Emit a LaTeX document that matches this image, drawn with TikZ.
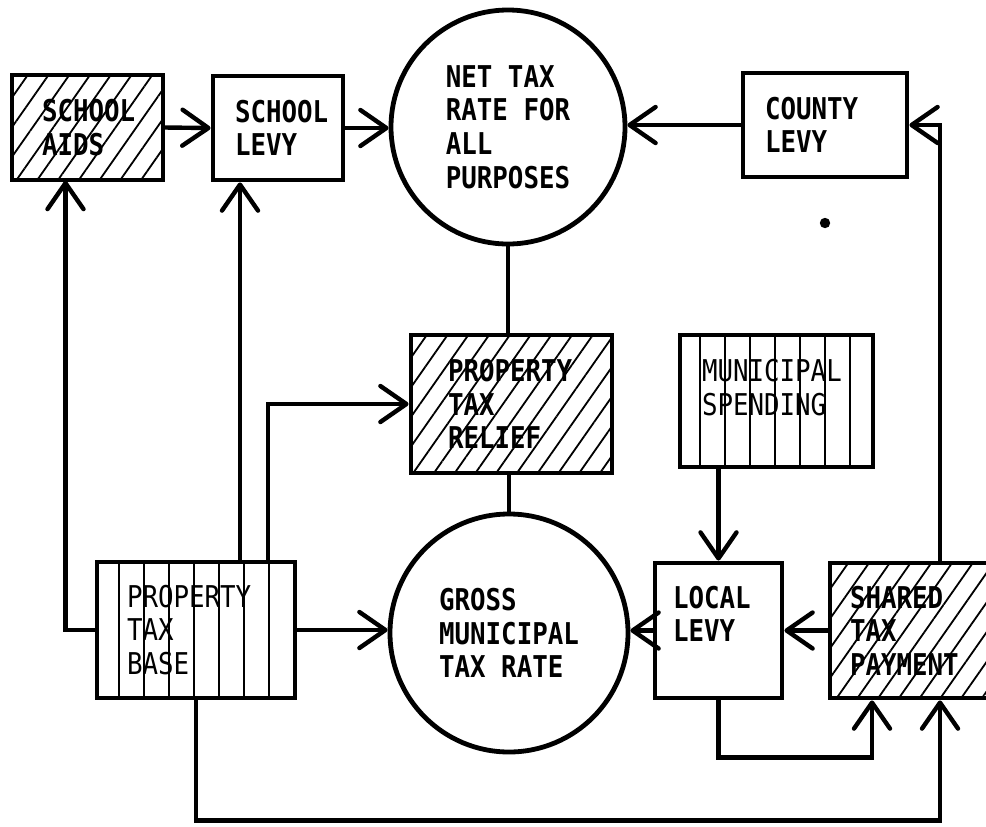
\documentclass[tikz,border=0pt]{standalone}
\usepackage{fontspec}
\setmainfont{DejaVu Sans Mono}[FakeStretch=0.86]
\usetikzlibrary{arrows.meta,patterns.meta}

\newcommand\diagfont{\fontsize{15pt}{16.8pt}\selectfont}

\tikzset{
  box/.style={draw,line width=2.4pt,align=left,inner sep=0pt,font=\diagfont\bfseries},
  rate/.style={draw,circle,line width=2.4pt,align=left,inner sep=0pt,font=\diagfont\bfseries},
  hatched/.style={pattern={Lines[angle=55,distance=8.5pt,line width=0.9pt]}},
  stripe/.style={line width=1.3pt},
  flow/.style={line width=2.2pt,-{Straight Barb[length=13pt,width=18pt,round]}},
  link/.style={line width=2.2pt},
}

\begin{document}
\begin{tikzpicture}[x=0.5pt,y=-0.5pt]
\useasboundingbox (0,0) rectangle (986,826);
\clip (0,0) rectangle (986,826);

% top row
\node[box,hatched,minimum width=75.5pt,minimum height=52.5pt,text width=45.5pt] (aids) at (87.5,127.5) {SCHOOL\\AIDS};
\node[box,minimum width=65pt,minimum height=52pt,text width=43pt] (slevy) at (278,128) {SCHOOL\\LEVY};
\node[rate,minimum size=117pt] (net) at (508,127) {NET TAX\\RATE FOR\\ALL\\PURPOSES};
\node[box,minimum width=82pt,minimum height=52pt,text width=60pt] (county) at (825,125) {COUNTY\\LEVY};

% middle row
\node[box,hatched,minimum width=100.5pt,minimum height=69pt,text width=63.5pt] (ptr) at (511.5,404) {PROPERTY\\TAX\\RELIEF};
\node[box,font=\diagfont\mdseries,minimum width=96.5pt,minimum height=66pt,text width=74.5pt] (mspend) at (776.5,401) {MUNICIPAL\\SPENDING\\[-3pt]\mbox{}};

% bottom row
\node[box,font=\diagfont\mdseries,minimum width=99pt,minimum height=68pt,text width=69pt] (ptb) at (196,630) {PROPERTY\\TAX\\BASE};
\node[rate,minimum size=119pt] (gross) at (509,633) {GROSS\\MUNICIPAL\\TAX RATE};
\node[box,minimum width=63.5pt,minimum height=67.5pt,text width=45.5pt] (llevy) at (718.5,630.5) {LOCAL\\LEVY\\\mbox{}};
\node[box,hatched,minimum width=85pt,minimum height=67.5pt,text width=65pt] (stp) at (915,630.5) {SHARED\\TAX\\PAYMENT};

% vertical stripes
\foreach \x in {119,144,...,269}
  \draw[stripe] (\x,562) -- (\x,698);
\foreach \x in {700,725,...,850}
  \draw[stripe] (\x,335) -- (\x,467);

\fill (825,223) circle (2.6pt);

\coordinate (aidsin) at ([xshift=-11pt]aids.south);
\coordinate (slevyin) at ([xshift=-19pt]slevy.south);
\coordinate (relief) at ([xshift=36pt]ptb.north);
\coordinate (lloop) at ([xshift=-21.5pt]stp.south);
\coordinate (rloop) at ([xshift=12.5pt]stp.south);

% connectors
\draw[flow] (aids.east) -- (slevy.west);
\draw[flow] (slevy.east) -- (slevy.east -| net.west);
\draw[flow] (county.west) -- (county.west -| net.east);
\draw[link] (net.south) -- (net.south |- ptr.north);
\draw[link] (gross.north |- ptr.south) -- (gross.north);
\draw[flow] (ptb.west) -| (aidsin);
\draw[flow] (ptb.north -| slevyin) -- (slevyin);
\draw[flow] (relief) |- (ptr.west);
\draw[flow] (ptb.east) -- (ptb.east -| gross.west);
\draw[flow] (mspend.south -| llevy.north) -- (llevy.north);
\draw[flow] (llevy.west) -- (llevy.west -| gross.east);
\draw[flow] (stp.west) -- (llevy.east);
\draw[flow] (llevy.south) -- ++(0,57) -| (lloop);
\draw[flow] (ptb.south) -- ++(0,120) -| (rloop);
\draw[flow] (stp.north -| rloop) |- (county.east);
\end{tikzpicture}
\end{document}
